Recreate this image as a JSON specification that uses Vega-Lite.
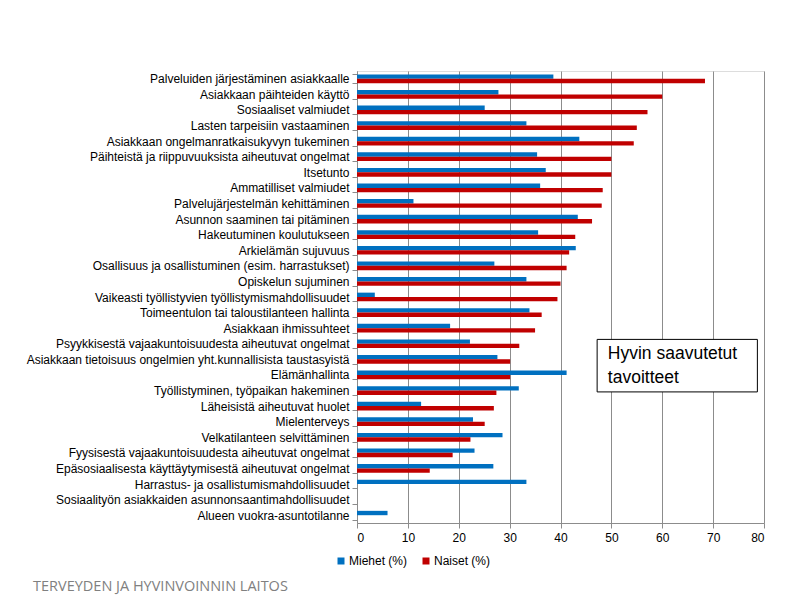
{
  "$schema": "https://vega.github.io/schema/vega-lite/v6.json",
  "width": 407,
  "height": 452,
  "autosize": {"type": "none"},
  "padding": {"left": 357, "top": 71, "right": 43, "bottom": 86},
  "background": "white",
  "title": {
    "text": "TERVEYDEN JA HYVINVOINNIN LAITOS",
    "orient": "bottom",
    "anchor": "start",
    "frame": "group",
    "dx": -324,
    "offset": 13,
    "font": "Open Sans",
    "fontSize": 14.5,
    "fontWeight": "normal",
    "color": "#808080"
  },
  "datasets": {
    "bars": [
      {"category": "Palveluiden järjestäminen asiakkaalle", "series": "Miehet (%)", "value": 38.6},
      {"category": "Palveluiden järjestäminen asiakkaalle", "series": "Naiset (%)", "value": 68.4},
      {"category": "Asiakkaan päihteiden käyttö", "series": "Miehet (%)", "value": 27.8},
      {"category": "Asiakkaan päihteiden käyttö", "series": "Naiset (%)", "value": 60.0},
      {"category": "Sosiaaliset valmiudet", "series": "Miehet (%)", "value": 25.1},
      {"category": "Sosiaaliset valmiudet", "series": "Naiset (%)", "value": 57.1},
      {"category": "Lasten tarpeisiin vastaaminen", "series": "Miehet (%)", "value": 33.3},
      {"category": "Lasten tarpeisiin vastaaminen", "series": "Naiset (%)", "value": 55.0},
      {"category": "Asiakkaan ongelmanratkaisukyvyn tukeminen", "series": "Miehet (%)", "value": 43.7},
      {"category": "Asiakkaan ongelmanratkaisukyvyn tukeminen", "series": "Naiset (%)", "value": 54.4},
      {"category": "Päihteistä ja riippuvuuksista aiheutuvat ongelmat", "series": "Miehet (%)", "value": 35.4},
      {"category": "Päihteistä ja riippuvuuksista aiheutuvat ongelmat", "series": "Naiset (%)", "value": 50.0},
      {"category": "Itsetunto", "series": "Miehet (%)", "value": 37.1},
      {"category": "Itsetunto", "series": "Naiset (%)", "value": 50.0},
      {"category": "Ammatilliset valmiudet", "series": "Miehet (%)", "value": 36.0},
      {"category": "Ammatilliset valmiudet", "series": "Naiset (%)", "value": 48.3},
      {"category": "Palvelujärjestelmän kehittäminen", "series": "Miehet (%)", "value": 11.1},
      {"category": "Palvelujärjestelmän kehittäminen", "series": "Naiset (%)", "value": 48.1},
      {"category": "Asunnon saaminen tai pitäminen", "series": "Miehet (%)", "value": 43.4},
      {"category": "Asunnon saaminen tai pitäminen", "series": "Naiset (%)", "value": 46.2},
      {"category": "Hakeutuminen koulutukseen", "series": "Miehet (%)", "value": 35.6},
      {"category": "Hakeutuminen koulutukseen", "series": "Naiset (%)", "value": 42.9},
      {"category": "Arkielämän sujuvuus", "series": "Miehet (%)", "value": 43.0},
      {"category": "Arkielämän sujuvuus", "series": "Naiset (%)", "value": 41.7},
      {"category": "Osallisuus ja osallistuminen (esim. harrastukset)", "series": "Miehet (%)", "value": 27.0},
      {"category": "Osallisuus ja osallistuminen (esim. harrastukset)", "series": "Naiset (%)", "value": 41.2},
      {"category": "Opiskelun sujuminen", "series": "Miehet (%)", "value": 33.3},
      {"category": "Opiskelun sujuminen", "series": "Naiset (%)", "value": 40.0},
      {"category": "Vaikeasti työllistyvien työllistymismahdollisuudet", "series": "Miehet (%)", "value": 3.5},
      {"category": "Vaikeasti työllistyvien työllistymismahdollisuudet", "series": "Naiset (%)", "value": 39.4},
      {"category": "Toimeentulon tai taloustilanteen hallinta", "series": "Miehet (%)", "value": 33.9},
      {"category": "Toimeentulon tai taloustilanteen hallinta", "series": "Naiset (%)", "value": 36.3},
      {"category": "Asiakkaan ihmissuhteet", "series": "Miehet (%)", "value": 18.3},
      {"category": "Asiakkaan ihmissuhteet", "series": "Naiset (%)", "value": 35.0},
      {"category": "Psyykkisestä vajaakuntoisuudesta aiheutuvat ongelmat", "series": "Miehet (%)", "value": 22.2},
      {"category": "Psyykkisestä vajaakuntoisuudesta aiheutuvat ongelmat", "series": "Naiset (%)", "value": 31.9},
      {"category": "Asiakkaan tietoisuus ongelmien yht.kunnallisista taustasyistä", "series": "Miehet (%)", "value": 27.6},
      {"category": "Asiakkaan tietoisuus ongelmien yht.kunnallisista taustasyistä", "series": "Naiset (%)", "value": 30.1},
      {"category": "Elämänhallinta", "series": "Miehet (%)", "value": 41.2},
      {"category": "Elämänhallinta", "series": "Naiset (%)", "value": 30.1},
      {"category": "Työllistyminen, työpaikan hakeminen", "series": "Miehet (%)", "value": 31.8},
      {"category": "Työllistyminen, työpaikan hakeminen", "series": "Naiset (%)", "value": 27.4},
      {"category": "Läheisistä aiheutuvat huolet", "series": "Miehet (%)", "value": 12.6},
      {"category": "Läheisistä aiheutuvat huolet", "series": "Naiset (%)", "value": 26.9},
      {"category": "Mielenterveys", "series": "Miehet (%)", "value": 22.8},
      {"category": "Mielenterveys", "series": "Naiset (%)", "value": 25.1},
      {"category": "Velkatilanteen selvittäminen", "series": "Miehet (%)", "value": 28.6},
      {"category": "Velkatilanteen selvittäminen", "series": "Naiset (%)", "value": 22.3},
      {"category": "Fyysisestä vajaakuntoisuudesta aiheutuvat ongelmat", "series": "Miehet (%)", "value": 23.1},
      {"category": "Fyysisestä vajaakuntoisuudesta aiheutuvat ongelmat", "series": "Naiset (%)", "value": 18.8},
      {"category": "Epäsosiaalisesta käyttäytymisestä aiheutuvat ongelmat", "series": "Miehet (%)", "value": 26.8},
      {"category": "Epäsosiaalisesta käyttäytymisestä aiheutuvat ongelmat", "series": "Naiset (%)", "value": 14.3},
      {"category": "Harrastus- ja osallistumismahdollisuudet", "series": "Miehet (%)", "value": 33.3},
      {"category": "Harrastus- ja osallistumismahdollisuudet", "series": "Naiset (%)", "value": 0},
      {"category": "Sosiaalityön asiakkaiden asunnonsaantimahdollisuudet", "series": "Miehet (%)", "value": 0},
      {"category": "Sosiaalityön asiakkaiden asunnonsaantimahdollisuudet", "series": "Naiset (%)", "value": 0},
      {"category": "Alueen vuokra-asuntotilanne", "series": "Miehet (%)", "value": 6.0},
      {"category": "Alueen vuokra-asuntotilanne", "series": "Naiset (%)", "value": 0}
    ],
    "box": [
      {"x1": 47.2, "x2": 78.7, "top": "Psyykkisestä vajaakuntoisuudesta aiheutuvat ongelmat", "bottom": "Työllistyminen, työpaikan hakeminen"}
    ],
    "note": [
      {"x": 49.3, "row": "Asiakkaan tietoisuus ongelmien yht.kunnallisista taustasyistä", "label": "Hyvin saavutetut\ntavoitteet"}
    ]
  },
  "layer": [
    {
      "data": {"name": "bars"},
      "mark": {"type": "bar"},
      "encoding": {
        "y": {
          "field": "category",
          "type": "nominal",
          "title": null,
          "scale": {"domain": ["Palveluiden järjestäminen asiakkaalle", "Asiakkaan päihteiden käyttö", "Sosiaaliset valmiudet", "Lasten tarpeisiin vastaaminen", "Asiakkaan ongelmanratkaisukyvyn tukeminen", "Päihteistä ja riippuvuuksista aiheutuvat ongelmat", "Itsetunto", "Ammatilliset valmiudet", "Palvelujärjestelmän kehittäminen", "Asunnon saaminen tai pitäminen", "Hakeutuminen koulutukseen", "Arkielämän sujuvuus", "Osallisuus ja osallistuminen (esim. harrastukset)", "Opiskelun sujuminen", "Vaikeasti työllistyvien työllistymismahdollisuudet", "Toimeentulon tai taloustilanteen hallinta", "Asiakkaan ihmissuhteet", "Psyykkisestä vajaakuntoisuudesta aiheutuvat ongelmat", "Asiakkaan tietoisuus ongelmien yht.kunnallisista taustasyistä", "Elämänhallinta", "Työllistyminen, työpaikan hakeminen", "Läheisistä aiheutuvat huolet", "Mielenterveys", "Velkatilanteen selvittäminen", "Fyysisestä vajaakuntoisuudesta aiheutuvat ongelmat", "Epäsosiaalisesta käyttäytymisestä aiheutuvat ongelmat", "Harrastus- ja osallistumismahdollisuudet", "Sosiaalityön asiakkaiden asunnonsaantimahdollisuudet", "Alueen vuokra-asuntotilanne"], "paddingInner": 0.44, "paddingOuter": 0.22},
          "axis": {
            "tickBand": "extent",
            "labelFont": "Liberation Sans",
            "labelFontSize": 12,
            "labelColor": "#000000",
            "labelPadding": 3,
            "labelLimit": 340,
            "tickSize": 5,
            "tickColor": "#8c8c8c",
            "domainColor": "#8c8c8c",
            "grid": false
          }
        },
        "x": {
          "field": "value",
          "type": "quantitative",
          "title": null,
          "scale": {"domain": [0, 80], "nice": false},
          "axis": {
            "values": [0, 10, 20, 30, 40, 50, 60, 70, 80],
            "labelFont": "Liberation Sans",
            "labelFontSize": 12,
            "labelColor": "#000000",
            "labelPadding": 4,
            "tickSize": 5,
            "tickColor": "#8c8c8c",
            "domainColor": "#8c8c8c",
            "grid": true,
            "gridColor": "#8c8c8c",
            "gridOpacity": 1,
            "gridWidth": 1
          }
        },
        "yOffset": {"field": "series", "type": "nominal", "sort": ["Miehet (%)", "Naiset (%)"]},
        "color": {
          "field": "series",
          "type": "nominal",
          "scale": {"domain": ["Miehet (%)", "Naiset (%)"], "range": ["#0070c0", "#c00000"]},
          "legend": {
            "title": null,
            "orient": "none",
            "direction": "horizontal",
            "legendX": -22,
            "legendY": 484,
            "symbolType": "square",
            "symbolSize": 49,
            "symbolStrokeWidth": 0,
            "labelFont": "Liberation Sans",
            "labelFontSize": 12,
            "labelColor": "#000000",
            "labelOffset": 2,
            "columnPadding": 12
          }
        }
      }
    },
    {
      "data": {"name": "box"},
      "mark": {"type": "rect", "fill": "white", "stroke": "black", "strokeWidth": 1},
      "encoding": {
        "x": {"field": "x1", "type": "quantitative"},
        "x2": {"field": "x2"},
        "y": {"field": "top", "type": "nominal", "bandPosition": 0},
        "y2": {"field": "bottom", "bandPosition": 0.66}
      }
    },
    {
      "data": {"name": "note"},
      "mark": {"type": "text", "align": "left", "baseline": "alphabetic", "lineBreak": "\n", "lineHeight": 24, "font": "Liberation Sans", "fontSize": 17.5, "color": "black"},
      "encoding": {
        "x": {"field": "x", "type": "quantitative"},
        "y": {"field": "row", "type": "nominal", "bandPosition": 0.5},
        "text": {"field": "label"}
      }
    }
  ]
}
